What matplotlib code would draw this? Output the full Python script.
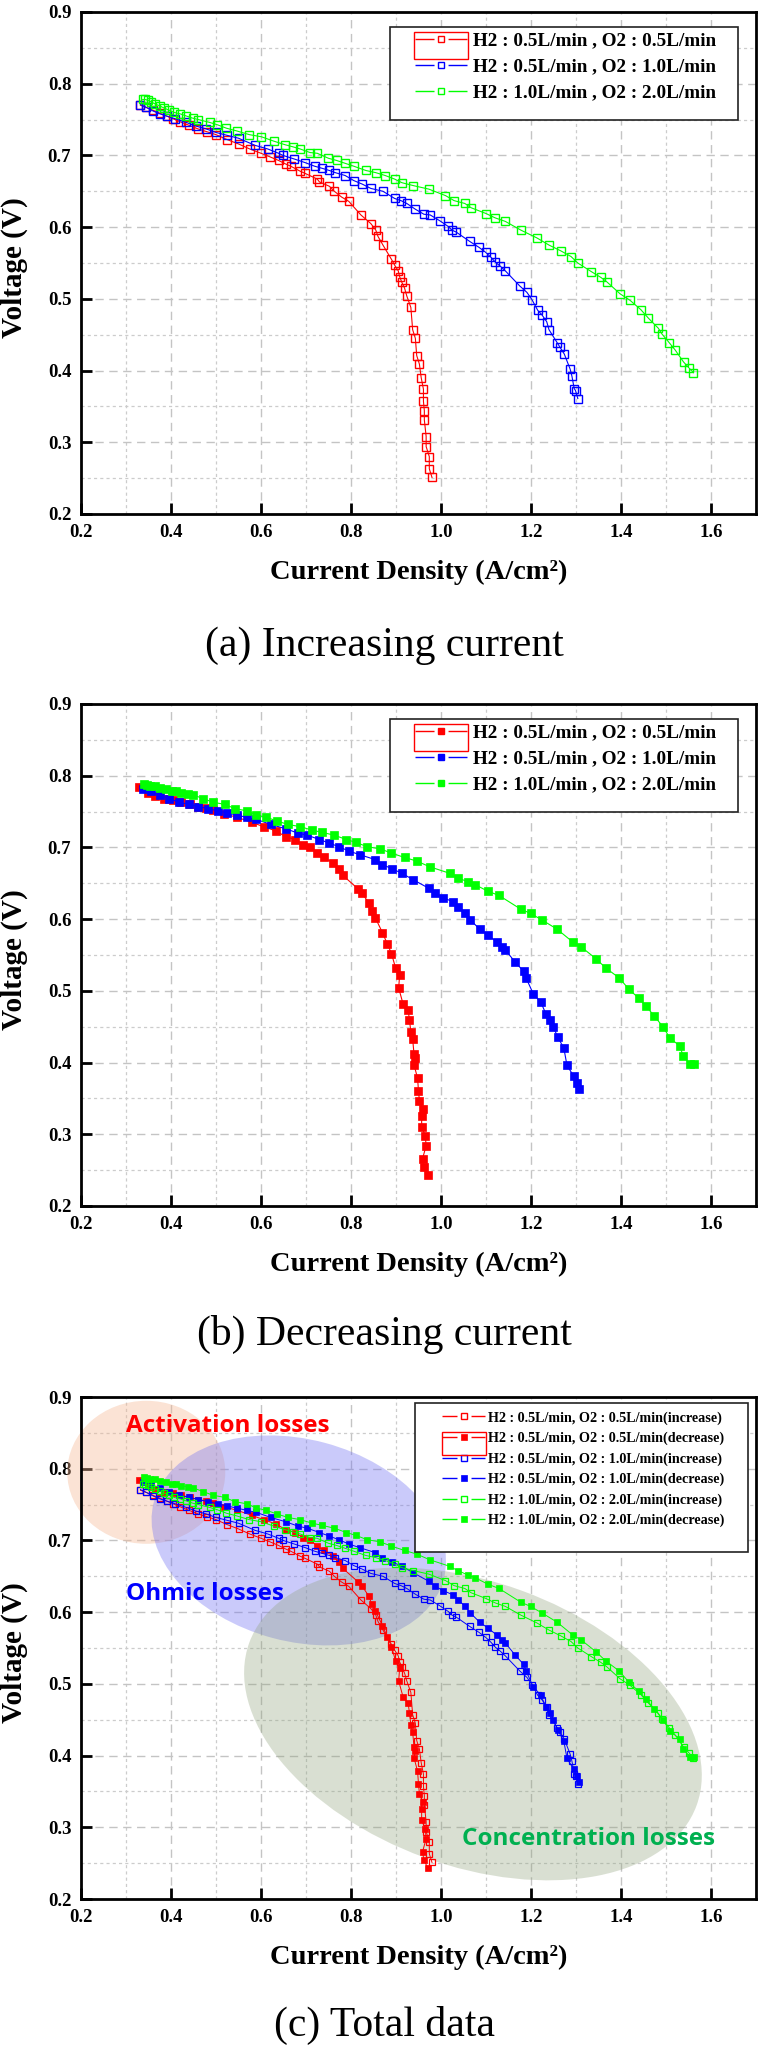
import numpy as np
import matplotlib
matplotlib.use("Agg")
import matplotlib.pyplot as plt
from matplotlib.lines import Line2D
from matplotlib.patches import Ellipse, Rectangle
from matplotlib.transforms import ScaledTranslation

plt.rcParams['font.family'] = ['Liberation Serif', 'DejaVu Serif']

# ---------------- data ----------------
red_inc_x = [0.332, 0.345, 0.360, 0.375, 0.390, 0.405, 0.420, 0.440, 0.460, 0.480, 0.500, 0.525, 0.550, 0.575,
             0.600, 0.620, 0.639, 0.655, 0.666, 0.687, 0.698, 0.725, 0.730, 0.752, 0.763, 0.779, 0.795, 0.822,
             0.844, 0.855, 0.860, 0.871, 0.890, 0.897, 0.905, 0.908, 0.913, 0.919, 0.924, 0.933, 0.937, 0.943,
             0.946, 0.952, 0.956, 0.961, 0.961, 0.963, 0.963, 0.967, 0.967, 0.974, 0.974, 0.980]
red_inc_y = [0.770, 0.767, 0.763, 0.759, 0.755, 0.751, 0.747, 0.742, 0.737, 0.733, 0.729, 0.722, 0.716, 0.709,
             0.703, 0.698, 0.693, 0.688, 0.685, 0.678, 0.675, 0.667, 0.663, 0.657, 0.650, 0.642, 0.636, 0.617,
             0.605, 0.596, 0.587, 0.575, 0.555, 0.547, 0.539, 0.531, 0.523, 0.515, 0.504, 0.488, 0.457, 0.445,
             0.421, 0.409, 0.390, 0.374, 0.357, 0.344, 0.331, 0.308, 0.294, 0.280, 0.263, 0.251]

blue_inc_x = [0.332, 0.345, 0.360, 0.375, 0.390, 0.410, 0.434, 0.455, 0.478, 0.500, 0.525, 0.550, 0.587, 0.615,
              0.639, 0.649, 0.674, 0.698, 0.719, 0.736, 0.752, 0.765, 0.787, 0.806, 0.825, 0.844, 0.871, 0.897,
              0.911, 0.924, 0.943, 0.962, 0.976, 0.997, 1.016, 1.024, 1.034, 1.064, 1.084, 1.099, 1.111, 1.121,
              1.131, 1.143, 1.175, 1.191, 1.202, 1.215, 1.224, 1.235, 1.240, 1.258, 1.264, 1.274, 1.287, 1.291,
              1.296, 1.299, 1.304]
blue_inc_y = [0.771, 0.767, 0.762, 0.758, 0.755, 0.751, 0.746, 0.741, 0.737, 0.732, 0.728, 0.724, 0.714, 0.709,
              0.703, 0.700, 0.695, 0.690, 0.685, 0.682, 0.679, 0.676, 0.672, 0.665, 0.660, 0.654, 0.650, 0.640,
              0.637, 0.633, 0.625, 0.618, 0.617, 0.609, 0.601, 0.596, 0.593, 0.580, 0.572, 0.565, 0.558, 0.551,
              0.546, 0.539, 0.518, 0.509, 0.499, 0.484, 0.478, 0.468, 0.457, 0.439, 0.433, 0.423, 0.402, 0.392,
              0.375, 0.372, 0.361]

green_inc_x = [0.337, 0.343, 0.348, 0.355, 0.364, 0.375, 0.385, 0.396, 0.407, 0.420, 0.434, 0.448, 0.461, 0.486,
               0.502, 0.523, 0.547, 0.574, 0.601, 0.628, 0.653, 0.671, 0.687, 0.709, 0.725, 0.750, 0.768, 0.787,
               0.806, 0.833, 0.855, 0.876, 0.897, 0.913, 0.938, 0.973, 1.010, 1.029, 1.053, 1.067, 1.100, 1.120,
               1.143, 1.177, 1.213, 1.240, 1.266, 1.289, 1.304, 1.334, 1.355, 1.368, 1.398, 1.420, 1.444, 1.461,
               1.483, 1.491, 1.507, 1.520, 1.539, 1.552, 1.561]
green_inc_y = [0.778, 0.778, 0.777, 0.775, 0.772, 0.769, 0.766, 0.763, 0.760, 0.758, 0.755, 0.752, 0.750, 0.746,
               0.743, 0.738, 0.734, 0.729, 0.726, 0.720, 0.715, 0.712, 0.709, 0.704, 0.703, 0.696, 0.693, 0.689,
               0.685, 0.679, 0.676, 0.672, 0.667, 0.662, 0.658, 0.653, 0.644, 0.637, 0.633, 0.627, 0.619, 0.613,
               0.608, 0.596, 0.585, 0.575, 0.567, 0.559, 0.550, 0.538, 0.530, 0.524, 0.507, 0.498, 0.485, 0.473,
               0.459, 0.451, 0.439, 0.429, 0.412, 0.403, 0.397]

red_dec_x = [0.328, 0.348, 0.365, 0.385, 0.405, 0.423, 0.442, 0.461, 0.478, 0.493, 0.517, 0.547, 0.579, 0.606,
             0.633, 0.655, 0.676, 0.693, 0.709, 0.725, 0.741, 0.760, 0.773, 0.782, 0.816, 0.825, 0.840, 0.846,
             0.854, 0.870, 0.881, 0.890, 0.899, 0.908, 0.906, 0.916, 0.927, 0.930, 0.933, 0.937, 0.940, 0.943,
             0.940, 0.948, 0.950, 0.952, 0.959, 0.957, 0.957, 0.965, 0.967, 0.959, 0.962, 0.971]
red_dec_y = [0.784, 0.776, 0.772, 0.768, 0.766, 0.763, 0.760, 0.757, 0.755, 0.752, 0.747, 0.742, 0.735, 0.729,
             0.723, 0.715, 0.711, 0.704, 0.701, 0.692, 0.686, 0.678, 0.670, 0.661, 0.642, 0.636, 0.622, 0.611,
             0.602, 0.581, 0.565, 0.552, 0.532, 0.522, 0.504, 0.481, 0.473, 0.459, 0.443, 0.433, 0.412, 0.406,
             0.397, 0.378, 0.360, 0.347, 0.335, 0.325, 0.310, 0.298, 0.284, 0.266, 0.254, 0.243]

blue_dec_x = [0.337, 0.355, 0.375, 0.396, 0.418, 0.440, 0.461, 0.483, 0.504, 0.525, 0.547, 0.568, 0.590, 0.622,
              0.655, 0.682, 0.703, 0.730, 0.752, 0.773, 0.795, 0.819, 0.854, 0.870, 0.892, 0.913, 0.938, 0.973,
              0.987, 1.005, 1.027, 1.038, 1.054, 1.065, 1.086, 1.104, 1.124, 1.135, 1.143, 1.165, 1.184, 1.189,
              1.205, 1.222, 1.233, 1.242, 1.249, 1.260, 1.273, 1.280, 1.295, 1.302, 1.306]
blue_dec_y = [0.782, 0.778, 0.773, 0.768, 0.763, 0.760, 0.757, 0.754, 0.751, 0.748, 0.745, 0.742, 0.739, 0.732,
              0.726, 0.720, 0.717, 0.711, 0.706, 0.701, 0.695, 0.690, 0.683, 0.676, 0.670, 0.664, 0.655, 0.643,
              0.636, 0.630, 0.624, 0.617, 0.608, 0.599, 0.586, 0.578, 0.568, 0.561, 0.557, 0.540, 0.527, 0.518,
              0.496, 0.484, 0.468, 0.460, 0.450, 0.435, 0.420, 0.396, 0.381, 0.372, 0.363]

green_dec_x = [0.339, 0.346, 0.353, 0.364, 0.375, 0.388, 0.402, 0.412, 0.423, 0.437, 0.450, 0.472, 0.493, 0.520,
               0.542, 0.569, 0.590, 0.612, 0.635, 0.660, 0.687, 0.714, 0.736, 0.763, 0.790, 0.811, 0.836, 0.865,
               0.890, 0.919, 0.946, 0.975, 1.019, 1.037, 1.059, 1.076, 1.104, 1.129, 1.177, 1.199, 1.224, 1.258,
               1.293, 1.312, 1.344, 1.366, 1.396, 1.418, 1.439, 1.455, 1.474, 1.493, 1.509, 1.531, 1.538, 1.554,
               1.562]
green_dec_y = [0.788, 0.787, 0.786, 0.785, 0.783, 0.781, 0.779, 0.778, 0.776, 0.775, 0.773, 0.768, 0.763, 0.760,
               0.754, 0.751, 0.745, 0.742, 0.737, 0.732, 0.729, 0.724, 0.721, 0.717, 0.711, 0.707, 0.701, 0.698,
               0.692, 0.686, 0.681, 0.673, 0.664, 0.658, 0.652, 0.648, 0.639, 0.633, 0.614, 0.608, 0.599, 0.586,
               0.568, 0.561, 0.545, 0.532, 0.518, 0.502, 0.490, 0.479, 0.465, 0.450, 0.434, 0.423, 0.409, 0.398,
               0.398]

labels_ab = ["H2 : 0.5L/min , O2 : 0.5L/min",
             "H2 : 0.5L/min , O2 : 1.0L/min",
             "H2 : 1.0L/min , O2 : 2.0L/min"]
labels_c = ["H2 : 0.5L/min, O2 : 0.5L/min(increase)",
            "H2 : 0.5L/min, O2 : 0.5L/min(decrease)",
            "H2 : 0.5L/min, O2 : 1.0L/min(increase)",
            "H2 : 0.5L/min, O2 : 1.0L/min(decrease)",
            "H2 : 1.0L/min, O2 : 2.0L/min(increase)",
            "H2 : 1.0L/min, O2 : 2.0L/min(decrease)"]
captions = ["(a) Increasing current", "(b) Decreasing current", "(c) Total data"]
x_ticks = [0.2, 0.4, 0.6, 0.8, 1.0, 1.2, 1.4, 1.6]
y_ticks = [0.2, 0.3, 0.4, 0.5, 0.6, 0.7, 0.8, 0.9]

RED, BLUE, GREEN = '#ff0000', '#0000ff', '#00ff00'
colors = [RED, BLUE, GREEN]
inc_series = [(red_inc_x, red_inc_y), (blue_inc_x, blue_inc_y), (green_inc_x, green_inc_y)]
dec_series = [(red_dec_x, red_dec_y), (blue_dec_x, blue_dec_y), (green_dec_x, green_dec_y)]

SANS_BOLD = ['Open Sans', 'Roboto', 'DejaVu Sans']

# ---------------- figure ----------------
W, H = 762, 2049
fig = plt.figure(figsize=(W / 100, H / 100), dpi=100)
AX_L, AX_W, AX_H = 81, 675, 502
tops = [12, 704, 1397]


def make_axes(top):
    ax = fig.add_axes([AX_L / W, 1 - (top + AX_H) / H, AX_W / W, AX_H / H])
    ax.set_xlim(0.2, 1.7)
    ax.set_ylim(0.2, 0.9)
    ax.set_xticks(x_ticks)
    ax.set_yticks(y_ticks)
    ax.set_xticklabels([f"{v:.1f}" for v in x_ticks])
    ax.set_yticklabels([f"{v:.1f}" for v in y_ticks])
    ax.set_xticks(np.arange(0.3, 1.75, 0.2), minor=True)
    ax.set_yticks(np.arange(0.25, 0.9, 0.1), minor=True)
    ax.tick_params(which='major', direction='in', length=8, width=2, labelsize=13.5, pad=7,
                   top=False, right=False)
    ax.tick_params(which='minor', length=0)
    for lab in ax.get_xticklabels() + ax.get_yticklabels():
        lab.set_fontweight('bold')
    for sp in ax.spines.values():
        sp.set_linewidth(2.0)
    ax.grid(which='major', color='#c4c4c4', lw=1.0, ls=(0, (6, 4)), zorder=0)
    ax.grid(which='minor', color='#cccccc', lw=0.9, ls=(0, (2.5, 2.5)), zorder=0)
    ax.set_axisbelow(True)
    ax.text(0.5, -58 / AX_H, "Current Density (A/cm²)", transform=ax.transAxes,
            ha='center', va='center', fontsize=20.5, fontweight='bold')
    ax.text((14 - AX_L) / AX_W, 0.49, "Voltage (V)", transform=ax.transAxes, rotation=90,
            ha='center', va='center', fontsize=21, fontweight='bold')
    return ax


def legend_frame(ax, x0, y0, x1, y1, sel):
    ax.add_patch(Rectangle((x0, y0), x1 - x0, y1 - y0, transform=ax.transAxes, facecolor='white',
                           edgecolor='#222222', lw=1.2, zorder=6, clip_on=False))
    sx0, sy0, sx1, sy1 = sel
    ax.add_patch(Rectangle((sx0, sy0), sx1 - sx0, sy1 - sy0, transform=ax.transAxes, facecolor='none',
                           edgecolor=RED, lw=1.0, zorder=8, clip_on=False))


def ab_legend(ax, filled):
    handles = []
    for c in colors:
        handles.append(Line2D([], [], color=c, lw=1.0, ls=(0, (13.7, 10.1)), marker='s', ms=5.0,
                              mfc=(c if filled else 'none'), mec=c, mew=1.0))
    legend_frame(ax, 0.4578, 0.7849, 0.9733, 0.9701, (0.4933, 0.9064, 0.5733, 0.9602))
    leg = ax.legend(handles, labels_ab, loc='upper left', bbox_to_anchor=((415 - AX_L) / AX_W, 0.960),
                    frameon=False, borderpad=0, borderaxespad=0, handlelength=2.7, handletextpad=0.31,
                    labelspacing=0.45, numpoints=1, prop={'size': 13.8, 'weight': 'bold'})
    leg.set_zorder(7)


# ---- panel (a)
ax_a = make_axes(tops[0])
for (xs, ys), c in zip(inc_series, colors):
    ax_a.plot(xs, ys, color=c, lw=0.8, marker='s', ms=6.0, mfc='none', mec=c, mew=1.0, zorder=3)
ab_legend(ax_a, False)

# ---- panel (b)
ax_b = make_axes(tops[1])
for (xs, ys), c in zip(dec_series, colors):
    ax_b.plot(xs, ys, color=c, lw=0.8, marker='s', ms=6.0, mfc=c, mec=c, mew=0.5, zorder=3)
ab_legend(ax_b, True)

# ---- panel (c)
ax_c = make_axes(tops[2])
regions = [
    # (cx, cy, width_px, height_px, angle, color, alpha)
    (0.345, 0.795, 158, 143, 0, '#f5b996', 0.40),
    (0.684, 0.700, 300, 202, -15, '#7575f2', 0.38),
    (1.071, 0.444, 476, 284, -20, '#91a37d', 0.34),
]
for cx, cy, wpx, hpx, ang, col, al in regions:
    e = Ellipse((0, 0), wpx / 100, hpx / 100, angle=ang, facecolor=col, edgecolor='none', alpha=al,
                transform=fig.dpi_scale_trans + ScaledTranslation(cx, cy, ax_c.transData),
                zorder=1, clip_on=False)
    ax_c.add_patch(e)

ax_c.text(0.301, 0.859, "Activation losses", color='#ff0000', fontsize=17.5, fontweight='bold',
          family=SANS_BOLD, ha='left', va='center', zorder=4)
ax_c.text(0.301, 0.625, "Ohmic losses", color='#0000ff', fontsize=17.5, fontweight='bold',
          family=SANS_BOLD, ha='left', va='center', zorder=4)
ax_c.text(1.046, 0.283, "Concentration losses", color='#00b050', fontsize=17.5, fontweight='bold',
          family=SANS_BOLD, ha='left', va='center', zorder=4)

handles_c = []
for (ix, iy), (dx, dy), c in zip(inc_series, dec_series, colors):
    ax_c.plot(ix, iy, color=c, lw=0.7, marker='s', ms=4.6, mfc='none', mec=c, mew=0.9, zorder=3)
    ax_c.plot(dx, dy, color=c, lw=0.7, marker='s', ms=4.2, mfc=c, mec=c, mew=0.5, zorder=3)
    handles_c.append(Line2D([], [], color=c, lw=1.0, ls=(0, (10.8, 10.1)), marker='s', ms=4.0,
                            mfc='none', mec=c, mew=1.0))
    handles_c.append(Line2D([], [], color=c, lw=1.0, ls=(0, (10.8, 10.1)), marker='s', ms=4.0,
                            mfc=c, mec=c, mew=0.5))
legend_frame(ax_c, 0.4948, 0.6912, 0.9881, 0.988, (0.5348, 0.8845, 0.600, 0.9303))
leg_c = ax_c.legend(handles_c, labels_c, loc='upper left', bbox_to_anchor=(0.5348, 0.972),
                    frameon=False, borderpad=0, borderaxespad=0, handlelength=3.05, handletextpad=0.2,
                    labelspacing=0.50, numpoints=1, prop={'size': 10.2, 'weight': 'bold'})
leg_c.set_zorder(7)

# ---- captions
for cap, yc in zip(captions, [646, 1334, 2025]):
    fig.text(384 / W, 1 - yc / H, cap, ha='center', va='center', fontsize=30)

fig.savefig("out.png", dpi=100)
